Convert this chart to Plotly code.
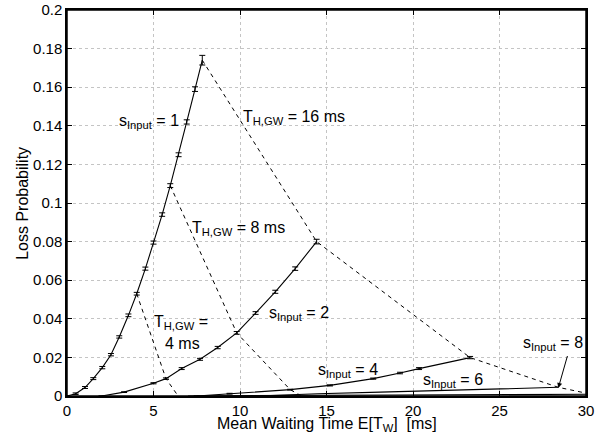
import plotly.graph_objects as go

# ---- data ----
s1_x = [0, 0.5, 1.04, 1.52, 2.04, 2.54, 3.02, 3.55, 4.03, 4.53, 5.0, 5.5, 5.97, 6.45, 6.92, 7.4, 7.82]
s1_y = [0, 0.0012, 0.0044, 0.009, 0.0147, 0.0214, 0.0306, 0.0418, 0.053, 0.066, 0.0795, 0.094, 0.109, 0.125, 0.142, 0.159, 0.174]
s1_err = [0, 0.0004, 0.0005, 0.0005, 0.0006, 0.0006, 0.0006, 0.0007, 0.0007, 0.0008, 0.0008, 0.0009, 0.0010, 0.0010, 0.0011, 0.0012, 0.0025]

s2_x = [2.0, 3.3, 5.0, 5.72, 6.63, 7.69, 8.71, 9.81, 10.9, 12.04, 13.19, 14.43]
s2_y = [0, 0.002, 0.0066, 0.009, 0.0142, 0.019, 0.0251, 0.0327, 0.043, 0.054, 0.066, 0.080]
s2_err = [0, 0.0002, 0.0003, 0.0004, 0.0005, 0.0005, 0.0006, 0.0007, 0.0007, 0.0008, 0.0009, 0.0012]

s4_x = [7.5, 9.4, 12.9, 15.2, 17.7, 19.25, 20.35, 23.3]
s4_y = [0, 0.0012, 0.0033, 0.0055, 0.009, 0.0119, 0.0142, 0.0199]
s4_err = [0, 0.0002, 0.0002, 0.0003, 0.0003, 0.0004, 0.0005, 0.0006]

s6_x = [11.0, 14.5, 18.1, 24.0, 28.4]
s6_y = [0, 0.0012, 0.002, 0.0033, 0.0045]

s8_x = [7.0, 9.5, 14.0, 19.0, 24.0, 30.0]
s8_y = [0, 0.0002, 0.0004, 0.0005, 0.0006, 0.0009]

t4_x = [4.03, 5.72, 6.4]
t4_y = [0.053, 0.009, 0.0003]
t8_x = [5.97, 9.81, 12.9, 13.5]
t8_y = [0.109, 0.0327, 0.0033, 0.0003]
t16_x = [7.82, 14.43, 23.3, 28.4, 30.0]
t16_y = [0.174, 0.080, 0.0199, 0.0045, 0.0015]

x_ticks = [0, 5, 10, 15, 20, 25, 30]
y_ticks = [0, 0.02, 0.04, 0.06, 0.08, 0.1, 0.12, 0.14, 0.16, 0.18, 0.2]
y_tick_labels = ["0", "0.02", "0.04", "0.06", "0.08", "0.1", "0.12", "0.14", "0.16", "0.18", "0.2"]

FONT = "Liberation Sans, Arial, Helvetica, sans-serif"

fig = go.Figure()

def solid(x, y, err=None):
    kw = {}
    if err is not None:
        kw["error_y"] = dict(type="data", array=err, visible=True, color="black", thickness=1, width=3)
    fig.add_trace(go.Scatter(x=x, y=y, mode="lines", line=dict(color="black", width=1.1),
                             showlegend=False, hoverinfo="skip", **kw))

def dashed(x, y):
    fig.add_trace(go.Scatter(x=x, y=y, mode="lines", line=dict(color="black", width=1, dash="4px,4px"),
                             showlegend=False, hoverinfo="skip"))

dashed(t4_x, t4_y)
dashed(t8_x, t8_y)
dashed(t16_x, t16_y)
solid(s1_x, s1_y, s1_err)
solid(s2_x, s2_y, s2_err)
solid(s4_x, s4_y, s4_err)
solid(s6_x, s6_y)
solid(s8_x, s8_y)

ann_font = dict(family=FONT, size=16, color="black")
annotations = [
    dict(x=4.74, y=0.142, text="s<sub>Input</sub> = 1"),
    dict(x=13.12, y=0.1444, text="T<sub>H,GW</sub> = 16 ms"),
    dict(x=9.94, y=0.0869, text="T<sub>H,GW</sub> = 8 ms"),
    dict(x=4.9, y=0.0382, text="T<sub>H,GW</sub> =", xanchor="left"),
    dict(x=6.69, y=0.0273, text="4 ms"),
    dict(x=13.4, y=0.0428, text="s<sub>Input</sub> = 2"),
    dict(x=16.24, y=0.0133, text="s<sub>Input</sub> = 4"),
    dict(x=22.3, y=0.0081, text="s<sub>Input</sub> = 6"),
    dict(x=28.1, y=0.0273, text="s<sub>Input</sub> = 8"),
]
for a in annotations:
    a.setdefault("xanchor", "center")
    fig.add_annotation(x=a["x"], y=a["y"], text=a["text"], xanchor=a["xanchor"], yanchor="middle",
                       showarrow=False, font=ann_font, xref="x", yref="y")

# arrow for s_Input = 8
fig.add_annotation(x=28.4, y=0.0042, ax=28.95, ay=0.0215, axref="x", ayref="y", xref="x", yref="y",
                   text="", showarrow=True, arrowhead=2, arrowsize=1, arrowwidth=1, arrowcolor="black")

# x axis title (overlaps tick labels like the original)
fig.add_annotation(x=0.5, y=-0.043, xref="paper", yref="paper", yanchor="top", xanchor="center",
                   text="Mean Waiting Time E[T<sub>W</sub>]  [ms]", showarrow=False, font=ann_font)
# y axis title
fig.add_annotation(x=-0.087, y=0.5, xref="paper", yref="paper", xanchor="center", yanchor="middle",
                   text="Loss Probability", textangle=-90, showarrow=False, font=ann_font)

# box around the axes
fig.add_shape(type="rect", xref="paper", yref="paper", x0=0, y0=0, x1=1, y1=1,
              line=dict(color="black", width=1.5), layer="above")

axis_common = dict(showline=True, linecolor="black", linewidth=1.5, mirror="ticks",
                   ticks="inside", ticklen=5, tickcolor="black", tickwidth=1,
                   showgrid=True, gridcolor="#c4c4c4", gridwidth=1, griddash="dot",
                   zeroline=False, automargin=False, ticklabeloverflow="allow",
                   tickfont=dict(family=FONT, size=15, color="black"))

fig.update_xaxes(range=[0, 30], tickvals=x_ticks, ticktext=[str(v) for v in x_ticks], **axis_common)
fig.update_yaxes(range=[0, 0.2], tickvals=y_ticks, ticktext=y_tick_labels, **axis_common)

fig.update_layout(width=613, height=439, margin=dict(l=67, r=27, t=10, b=43),
                  plot_bgcolor="white", paper_bgcolor="white",
                  font=dict(family=FONT, size=15, color="black"))

# remove the default page margin so the figure sits at the window's top-left corner
fig.write_html("out.html", config={"displayModeBar": False},
               post_script="document.body.style.margin='0';document.body.style.overflow='hidden';")
